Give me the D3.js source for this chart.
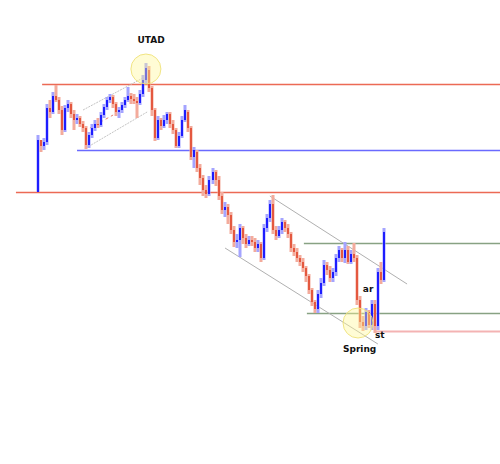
<!DOCTYPE html>
<html>
<head>
<meta charset="utf-8">
<script src="https://cdn.jsdelivr.net/npm/d3@7/dist/d3.min.js"></script>
<style>
 body { margin:0; background:#fff; }
 svg text { font-family: "DejaVu Sans", Verdana, sans-serif; font-weight: bold; font-size: 9px; fill: #111; }
</style>
</head>
<body>
<script>

/*
  Wyckoff sketch: distribution top (UTAD), markdown, accumulation (spring, st, ar)
  prices are plain points, higher = up
*/

// bar data, one value per bar
var open = [
 308,360,354,358,392,388,404,400,390,370,
 392,396,386,380,382,376,372,355,365,372,
 376,375,385,393,400,403,396,388,390,395,
 400,404,401,399,397,406,420,430,412,390,
 362,380,374,380,386,376,370,354,364,380,
 388,372,343,348,332,322,310,306,320,328,
 320,304,290,293,285,270,258,260,272,262,
 256,260,258,252,256,242,272,282,296,270,
 264,270,278,272,266,252,248,242,238,232,
 224,210,198,191,206,217,235,230,222,228,
 242,250,242,250,238,246,242,200,178,174,
 188,175,196,174,228,220]
var high = [
 365,360,362,396,400,408,415,403,394,395,
 400,398,390,386,384,379,374,368,376,380,
 382,388,396,403,406,405,398,393,398,403,
 413,407,406,403,410,425,437,434,414,392,
 384,382,385,388,388,380,372,368,384,395,
 390,374,353,350,336,325,315,324,332,330,
 324,308,298,296,288,274,266,276,274,266,
 264,264,262,260,258,276,286,300,305,274,
 274,282,280,276,268,256,252,245,242,234,
 226,212,200,210,222,240,238,234,232,246,
 254,252,258,254,250,257,245,204,184,192,
 190,200,200,232,238,272]
var low = [
 308,348,350,355,382,386,398,386,365,368,
 388,382,370,376,373,368,351,352,362,369,
 372,373,382,390,397,392,384,382,387,392,
 398,396,396,382,395,403,416,408,384,359,
 360,370,372,376,372,366,352,352,362,378,
 368,340,332,328,315,304,302,304,316,314,
 300,286,283,276,266,253,252,243,256,252,
 254,254,248,248,238,240,268,278,266,260,
 262,266,268,262,248,244,238,234,228,218,
 206,194,187,187,202,214,225,218,218,224,
 238,238,237,236,236,238,195,172,169,170,
 172,170,167,170,216,218]
var close = [
 360,354,358,392,388,404,400,390,370,392,
 396,386,380,382,376,372,355,365,372,376,
 375,385,393,400,403,396,388,390,395,400,
 404,401,399,397,406,420,432,412,390,362,
 380,374,380,386,376,370,354,364,380,390,
 372,343,350,332,322,310,306,320,328,320,
 304,290,293,285,270,258,260,272,262,256,
 260,258,252,256,242,272,282,296,270,264,
 270,278,272,266,252,248,242,238,232,224,
 210,198,191,206,217,235,230,222,228,242,
 250,242,250,238,246,242,200,178,174,188,
 175,196,174,228,220,268]

// horizontal levels: price, first bar, kind
var levelPrice = [416, 350, 308, 257, 187, 169]
var levelFrom  = [1.7, 13.3, -7, 88.7, 89.7, 112]
var levelKind  = ['red', 'blue', 'red', 'green', 'green', 'pink']

// trend channels: [bar, price] -> [bar, price]
var channels = [
 {kind: 'down',  a: [77.4, 304], b: [123, 216]},
 {kind: 'down',  a: [62.5, 252], b: [113.3, 156]},
 {kind: 'up',    a: [15.3, 390], b: [35.2, 422]},
 {kind: 'up',    a: [16.3, 352], b: [36.6, 388]},
 {kind: 'mid',   a: [17.6, 372], b: [25.3, 385]}
]

// event circles and labels
var marks  = [[36.2, 431], [106.7, 177]]
var labels = ['UTAD', 'ar', 'st', 'Spring']
var labelAt = [[37.9, 457, 'middle'], [108.3, 208, 'start'], [112.3, 162, 'start'], [101.7, 148, 'start']]

var W = 500, H = 464

var svg = d3.select('body').append('svg')
  .attr('width', W).attr('height', H)

var x = d3.scaleLinear().domain([0, close.length - 1]).range([37, 383])
var y = d3.scaleLinear().domain([36, 500]).range([H, 0])

var lineColour = { red: '#ec6a55', blue: '#6a6aff', green: '#88a283', pink: '#f4b3b3' }

// levels run off the right edge
svg.append('g').selectAll('line').data(levelPrice).enter().append('line')
  .attr('x1', function(d, i) { return x(levelFrom[i]) })
  .attr('x2', W)
  .attr('y1', function(d) { return Math.round(y(d)) + 0.5 })
  .attr('y2', function(d) { return Math.round(y(d)) + 0.5 })
  .attr('stroke', function(d, i) { return lineColour[levelKind[i]] })
  .attr('stroke-width', function(d, i) { return levelKind[i] == 'pink' ? 2 : 1.3 })

svg.append('g').selectAll('line').data(channels).enter().append('line')
  .attr('x1', function(d) { return x(d.a[0]) })
  .attr('y1', function(d) { return y(d.a[1]) })
  .attr('x2', function(d) { return x(d.b[0]) })
  .attr('y2', function(d) { return y(d.b[1]) })
  .attr('stroke', function(d) { return d.kind == 'mid' ? '#e58070' : d.kind == 'up' ? '#c4c4c4' : '#b0b0b0' })
  .attr('stroke-dasharray', function(d) { return d.kind == 'down' ? null : (d.kind == 'mid' ? '3,3' : '2,1') })
  .attr('stroke-width', 1)

// candles: wide pale wick behind a narrow solid body
var bars = d3.range(close.length)
var isUp = function(i) { return close[i] >= open[i] }

var g = svg.append('g')
g.selectAll('.wick').data(bars).enter().append('rect')
  .attr('class', 'wick')
  .attr('x', function(i) { return Math.round(x(i)) - 0.5 })
  .attr('width', 3)
  .attr('y', function(i) { return y(high[i]) })
  .attr('height', function(i) { return y(low[i]) - y(high[i]) })
  .attr('fill', function(i) { return isUp(i) ? '#a4a4ff' : '#f3ab9c' })

g.selectAll('.body').data(bars).enter().append('rect')
  .attr('class', 'body')
  .attr('x', function(i) { return Math.round(x(i)) })
  .attr('width', 2)
  .attr('y', function(i) { return y(Math.max(open[i], close[i])) })
  .attr('height', function(i) { return Math.max(1, Math.abs(y(open[i]) - y(close[i]))) })
  .attr('fill', function(i) { return isUp(i) ? '#1d1dff' : '#e4583f' })

// yellow highlight circles on top
svg.append('g').selectAll('circle').data(marks).enter().append('circle')
  .attr('cx', function(d) { return x(d[0]) })
  .attr('cy', function(d) { return y(d[1]) })
  .attr('r', 15)
  .attr('fill', 'rgba(255,248,150,0.4)')
  .attr('stroke', 'rgba(238,225,120,0.9)')
  .attr('stroke-width', 1)

svg.append('g').selectAll('text').data(labels).enter().append('text')
  .attr('x', function(d, i) { return x(labelAt[i][0]) })
  .attr('y', function(d, i) { return y(labelAt[i][1]) })
  .attr('text-anchor', function(d, i) { return labelAt[i][2] })
  .text(function(d) { return d })

</script>
</body>
</html>
